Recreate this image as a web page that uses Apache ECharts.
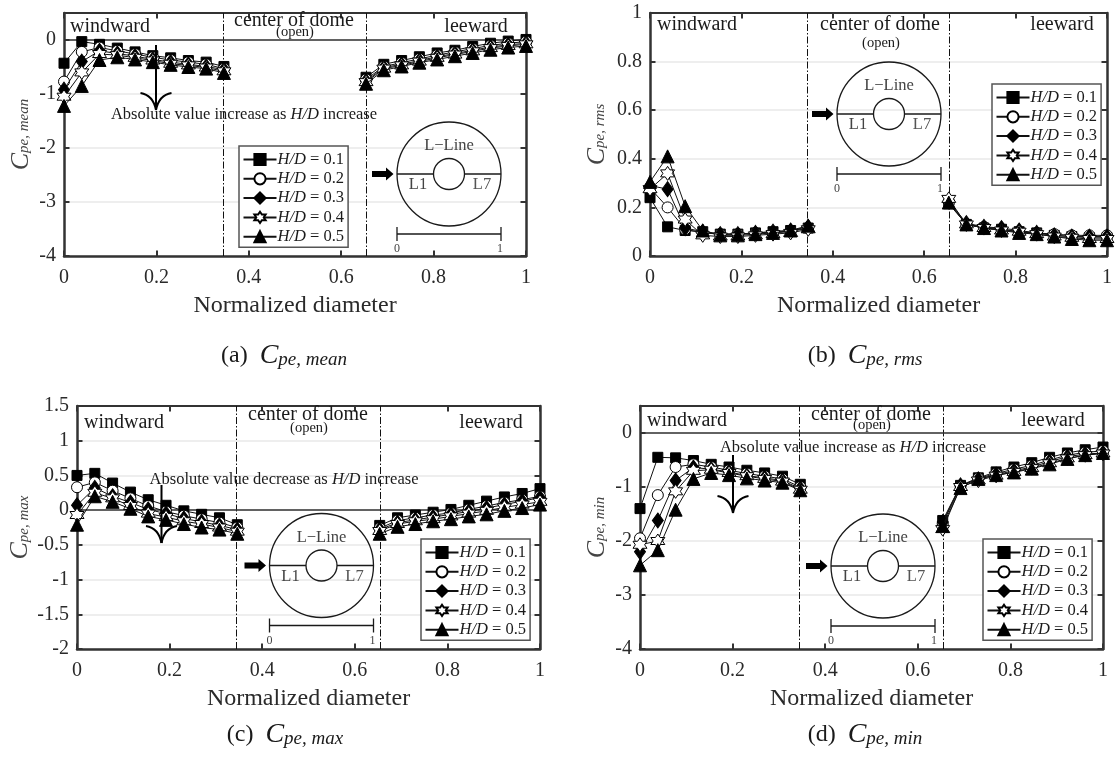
<!DOCTYPE html>
<html><head><meta charset="utf-8">
<style>html,body{margin:0;padding:0;background:#fff}#c{width:1115px;height:760px}</style>
<script src="https://cdn.jsdelivr.net/npm/echarts@6/dist/echarts.min.js"></script>
</head><body><div id="c"></div>
<script>
const positions = [0,0.0385,0.0769,0.1154,0.1538,0.1923,0.2308,0.2692,0.3077,0.3462,0.6538,0.6923,0.7308,0.7692,0.8077,0.8462,0.8846,0.9231,0.9615,1];
const seriesNames = ['H/D = 0.1','H/D = 0.2','H/D = 0.3','H/D = 0.4','H/D = 0.5'];

const meanValues = [
 [-0.43,-0.03,-0.08,-0.15,-0.22,-0.29,-0.33,-0.38,-0.41,-0.49,-0.69,-0.45,-0.38,-0.31,-0.24,-0.19,-0.12,-0.06,-0.02,0.01],
 [-0.77,-0.22,-0.14,-0.2,-0.26,-0.32,-0.37,-0.41,-0.45,-0.53,-0.73,-0.49,-0.42,-0.35,-0.28,-0.22,-0.16,-0.1,-0.06,-0.03],
 [-0.92,-0.4,-0.2,-0.25,-0.3,-0.36,-0.41,-0.45,-0.49,-0.55,-0.76,-0.51,-0.45,-0.38,-0.31,-0.25,-0.19,-0.13,-0.09,-0.06],
 [-1.05,-0.6,-0.26,-0.28,-0.33,-0.38,-0.44,-0.47,-0.51,-0.58,-0.78,-0.53,-0.47,-0.4,-0.33,-0.27,-0.21,-0.15,-0.11,-0.08],
 [-1.22,-0.85,-0.37,-0.32,-0.36,-0.41,-0.46,-0.5,-0.53,-0.61,-0.81,-0.56,-0.49,-0.42,-0.36,-0.3,-0.24,-0.18,-0.14,-0.11]
];
const rmsValues = [
 [0.24,0.12,0.105,0.1,0.09,0.09,0.095,0.1,0.105,0.115,0.215,0.13,0.115,0.11,0.1,0.095,0.085,0.08,0.075,0.075],
 [0.28,0.2,0.11,0.095,0.09,0.09,0.095,0.095,0.1,0.115,0.22,0.13,0.12,0.11,0.1,0.095,0.09,0.085,0.085,0.085],
 [0.29,0.275,0.115,0.1,0.09,0.09,0.095,0.1,0.105,0.12,0.225,0.135,0.12,0.115,0.105,0.095,0.085,0.08,0.08,0.08],
 [0.275,0.34,0.15,0.085,0.08,0.08,0.085,0.09,0.095,0.11,0.235,0.13,0.115,0.105,0.1,0.09,0.08,0.075,0.07,0.07],
 [0.305,0.41,0.205,0.105,0.085,0.085,0.09,0.095,0.105,0.125,0.22,0.13,0.115,0.105,0.095,0.09,0.08,0.07,0.065,0.065]
];
const maxValues = [
 [0.5,0.53,0.39,0.26,0.15,0.07,-0.01,-0.06,-0.11,-0.21,-0.22,-0.11,-0.07,-0.03,0.01,0.07,0.13,0.19,0.24,0.31],
 [0.33,0.4,0.28,0.17,0.06,-0.02,-0.08,-0.13,-0.18,-0.25,-0.26,-0.15,-0.11,-0.07,-0.04,0.01,0.06,0.11,0.15,0.2],
 [0.07,0.32,0.2,0.11,0.01,-0.05,-0.12,-0.17,-0.22,-0.28,-0.28,-0.18,-0.14,-0.1,-0.06,-0.02,0.03,0.08,0.13,0.18],
 [-0.07,0.25,0.17,0.06,-0.05,-0.1,-0.16,-0.2,-0.25,-0.31,-0.3,-0.2,-0.16,-0.13,-0.09,-0.05,-0.01,0.04,0.08,0.12],
 [-0.21,0.2,0.12,0.02,-0.09,-0.14,-0.2,-0.25,-0.28,-0.34,-0.34,-0.24,-0.2,-0.16,-0.13,-0.09,-0.06,-0.01,0.03,0.08]
];
const minValues = [
 [-1.4,-0.45,-0.46,-0.51,-0.58,-0.63,-0.69,-0.74,-0.8,-0.95,-1.62,-0.97,-0.83,-0.72,-0.63,-0.55,-0.45,-0.37,-0.31,-0.26],
 [-1.95,-1.15,-0.63,-0.58,-0.63,-0.69,-0.75,-0.8,-0.85,-1,-1.68,-0.98,-0.84,-0.75,-0.67,-0.6,-0.5,-0.41,-0.36,-0.33],
 [-2.2,-1.62,-0.88,-0.64,-0.67,-0.72,-0.79,-0.83,-0.88,-1.03,-1.65,-0.97,-0.86,-0.77,-0.7,-0.63,-0.53,-0.44,-0.39,-0.37],
 [-2.07,-2,-1.08,-0.7,-0.68,-0.74,-0.8,-0.85,-0.9,-1.05,-1.78,-1,-0.88,-0.79,-0.72,-0.65,-0.56,-0.47,-0.41,-0.38],
 [-2.45,-2.17,-1.42,-0.85,-0.74,-0.78,-0.84,-0.88,-0.92,-1.06,-1.72,-1.02,-0.85,-0.78,-0.73,-0.66,-0.58,-0.48,-0.41,-0.37]
];
const windwardEnd = 0.345, leewardStart = 0.655;

const FONT = '"Liberation Serif","Times New Roman",serif';
const INK = '#1a1a1a', FRAME = '#333333', SOFT = '#444444';
const STAR = 'path://M0,-10 L2.9,-5 L8.66,-5 L5.77,0 L8.66,5 L2.9,5 L0,10 L-2.9,5 L-8.66,5 L-5.77,0 L-8.66,-5 L-2.9,-5 Z';
const markers = [
 {symbol:'rect',size:10,fill:'#000'},
 {symbol:'circle',size:11,fill:'#fff'},
 {symbol:'diamond',size:[11,15],fill:'#000'},
 {symbol:STAR,size:14,fill:'#fff'},
 {symbol:'triangle',size:[13,13],fill:'#000'}
];

const panels = [
 {data:meanValues,sub:'pe, mean',tag:'(a)',box:[64,13,462,243],y:[-4,0.5,1],zero:true,nameGap:30,
  legend:[239,146],inset:[449,174],capX:284,capY:356,
  note:{x:244,y:115,text:'increase',arrowX:156,arrowTop:45,arrowEnd:110},
  regions:[[110,27],[294,21],[295,32],[476,27]]},
 {data:rmsValues,sub:'pe, rms',tag:'(b)',box:[650,13,462,243],y:[0,1,0.2],zero:false,nameGap:40,
  legend:[992,84],inset:[889,114],capX:865,capY:356,
  regions:[[697,25],[880,25],[881,43],[1062,25]]},
 {data:maxValues,sub:'pe, max',tag:'(c)',box:[77,406,463,243],y:[-2,1.5,0.5],zero:true,nameGap:43,
  legend:[421,539],inset:[321.5,565.5],capX:285,capY:735,
  note:{x:284,y:480,text:'decrease',arrowX:161.5,arrowTop:485,arrowEnd:543},
  regions:[[124,423],[308,415],[309,428],[491,423]]},
 {data:minValues,sub:'pe, min',tag:'(d)',box:[640,406,463,243],y:[-4,0.5,1],zero:true,nameGap:30,
  legend:[983,539],inset:[883,566],capX:865,capY:735,
  note:{x:853,y:448,text:'increase',arrowX:733,arrowTop:455,arrowEnd:513},
  regions:[[687,421],[871,415],[872,425],[1053,421]]}
];

const rich = {
 c:{fontFamily:FONT,fontStyle:'italic',fontSize:26,color:SOFT},
 s:{fontFamily:FONT,fontStyle:'italic',fontSize:15,color:SOFT,padding:[7,0,0,0]}
};
const legendRich = {
 i:{fontFamily:FONT,fontStyle:'italic',fontSize:16.5,color:INK,lineHeight:14},
 t:{fontFamily:FONT,fontSize:16.5,color:INK,lineHeight:14}
};

const grids=[],xAxes=[],yAxes=[],series=[],legends=[],graphics=[];

function txt(x,y,text,size,extra){
 return {type:'text',z:50,style:Object.assign({x,y,text,fontFamily:FONT,fontSize:size,fill:INK,align:'center',verticalAlign:'middle'},extra||{})};
}
function line(x1,y1,x2,y2,w,col){
 return {type:'line',z:50,shape:{x1,y1,x2,y2},style:{stroke:col||INK,lineWidth:w||1.5}};
}
function barb(x,yEnd,dir){
 return {type:'bezierCurve',z:51,shape:{x1:x+dir*15.5,y1:yEnd-17,x2:x,y2:yEnd,cpx1:x+dir*3,cpy1:yEnd-15},style:{fill:'none',stroke:'#000',lineWidth:2}};
}

panels.forEach((p,idx)=>{
 const [l,t,w,h]=p.box;
 grids.push({left:l,top:t,width:w,height:h,containLabel:false});
 const tick={show:true,inside:true,length:5.5,lineStyle:{color:FRAME,width:2}};
 const axLine={show:true,onZero:false,lineStyle:{color:FRAME,width:2.5}};
 const baseX={type:'value',gridIndex:idx,min:0,max:1,interval:0.2,axisLine:axLine,axisTick:tick,splitLine:{show:false}};
 const baseY={type:'value',gridIndex:idx,min:p.y[0],max:p.y[1],interval:p.y[2],axisLine:axLine,axisTick:tick};
 xAxes.push(Object.assign({},baseX,{position:'bottom',name:'Normalized diameter',nameLocation:'middle',nameGap:38,
  nameTextStyle:{fontFamily:FONT,fontSize:24,color:'#2a2a2a'},
  axisLabel:{fontFamily:FONT,fontSize:20,color:'#2a2a2a',margin:12}}));
 yAxes.push(Object.assign({},baseY,{position:'left',name:'{c|C}{s|'+p.sub+'}',nameLocation:'middle',nameGap:p.nameGap,nameRotate:90,
  nameTextStyle:{rich},
  splitLine:{show:true,lineStyle:{color:'#e8e8e8',width:1.5}},
  axisLabel:{fontFamily:FONT,fontSize:20,color:'#2a2a2a',margin:8,showMaxLabel:p.y[1]===0.5?false:true}}));
});
panels.forEach((p,idx)=>{
 const tick={show:true,inside:true,length:5.5,lineStyle:{color:FRAME,width:2}};
 xAxes.push({type:'value',gridIndex:idx,position:'top',min:0,max:1,interval:0.2,axisLine:{show:true,onZero:false,lineStyle:{color:FRAME,width:2}},axisTick:tick,axisLabel:{show:false},splitLine:{show:false}});
 yAxes.push({type:'value',gridIndex:idx,position:'right',min:p.y[0],max:p.y[1],interval:p.y[2],axisLine:{show:true,onZero:false,lineStyle:{color:FRAME,width:2.5}},axisTick:tick,axisLabel:{show:false},splitLine:{show:false}});
});

panels.forEach((p,idx)=>{
 seriesNames.forEach((name,si)=>{
  const vals=p.data[si],pts=[];
  positions.forEach((x,i)=>{
   pts.push([x,vals[i]]);
   if(i===9) pts.push([0.5,null]);
  });
  const m=markers[si];
  const s={name,type:'line',xAxisIndex:idx,yAxisIndex:idx,data:pts,connectNulls:false,
   symbol:m.symbol,symbolSize:m.size,showSymbol:true,showAllSymbol:true,clip:false,
   lineStyle:{color:'#111',width:1},
   itemStyle:{color:m.fill,borderColor:'#000',borderWidth:1},
   animation:false,silent:true,z:5+si};
  if(si===0){
   const ml=[
    {xAxis:windwardEnd,lineStyle:{color:'#111',width:1,type:[7,2,1.5,2]}},
    {xAxis:leewardStart,lineStyle:{color:'#111',width:1,type:[7,2,1.5,2]}}
   ];
   if(p.zero) ml.push({yAxis:0,lineStyle:{color:'#333',width:1.5,type:'solid'}});
   s.markLine={silent:true,symbol:'none',precision:4,label:{show:false},animation:false,data:ml};
  }
  series.push(s);
 });
 legends.push({show:true,orient:'vertical',left:p.legend[0],top:p.legend[1],width:111,
  data:seriesNames,selectedMode:false,itemWidth:33,itemHeight:14,itemGap:2.3,
  padding:[5,4,2,3.5],borderColor:'#555',borderWidth:1.5,backgroundColor:'#fff',z:20,
  textStyle:{rich:legendRich,padding:[0,0,0,-4]},
  formatter:n=>'{i|H/D}{t|'+n.slice(3)+'}'});

 const R=p.regions;
 graphics.push(txt(R[0][0],R[0][1],'windward',20),txt(R[1][0],R[1][1],'center of dome',20),
  txt(R[2][0],R[2][1],'(open)',14.5),txt(R[3][0],R[3][1],'leeward',20));

 const [cx,cy]=p.inset;
 graphics.push(
  {type:'circle',z:50,shape:{cx,cy,r:52},style:{fill:'none',stroke:INK,lineWidth:1.3}},
  {type:'circle',z:50,shape:{cx,cy,r:15.5},style:{fill:'none',stroke:INK,lineWidth:1.3}},
  line(cx-52,cy,cx-15.5,cy,1.3),line(cx+15.5,cy,cx+52,cy,1.3),
  txt(cx,cy-28,'L\u2212Line',16.5,{fill:SOFT}),
  txt(cx-31,cy+11,'L1',16.5,{fill:SOFT}),txt(cx+33,cy+11,'L7',16.5,{fill:'#555'}),
  {type:'polygon',z:50,shape:{points:[[cx-77,cy-3],[cx-63,cy-3],[cx-63,cy-6.5],[cx-55.5,cy],[cx-63,cy+6.5],[cx-63,cy+3],[cx-77,cy+3]]},style:{fill:'#000'}},
  line(cx-52,cy+60,cx+52,cy+60,1.3),line(cx-52,cy+53,cx-52,cy+67,1.3),line(cx+52,cy+53,cx+52,cy+67,1.3),
  txt(cx-52,cy+75,'0',12,{fill:SOFT}),txt(cx+51,cy+75,'1',12,{fill:SOFT})
 );

 if(p.note){
  const n=p.note;
  graphics.push(txt(n.x,n.y,'Absolute value '+n.text+' as {i|H/D} increase',16.5,
   {rich:{i:{fontFamily:FONT,fontStyle:'italic',fontSize:16.5,fill:INK}}}));
  graphics.push(line(n.arrowX,n.arrowTop,n.arrowX,n.arrowEnd,2,'#000'),barb(n.arrowX,n.arrowEnd,-1),barb(n.arrowX,n.arrowEnd,1));
 }

 graphics.push(txt(p.capX,p.capY,'{n|'+p.tag+'  }{c|C}{s|'+p.sub+'}',24,{rich:{
  c:{fontFamily:FONT,fontStyle:'italic',fontSize:28,fill:INK},
  s:{fontFamily:FONT,fontStyle:'italic',fontSize:19,fill:INK,padding:[8,0,0,0]},
  n:{fontFamily:FONT,fontSize:24,fill:INK}}}));
});

const chart=echarts.init(document.getElementById('c'));
chart.setOption({animation:false,backgroundColor:'#fff',grid:grids,xAxis:xAxes,yAxis:yAxes,series,legend:legends,graphic:{elements:graphics}});
</script></body></html>
